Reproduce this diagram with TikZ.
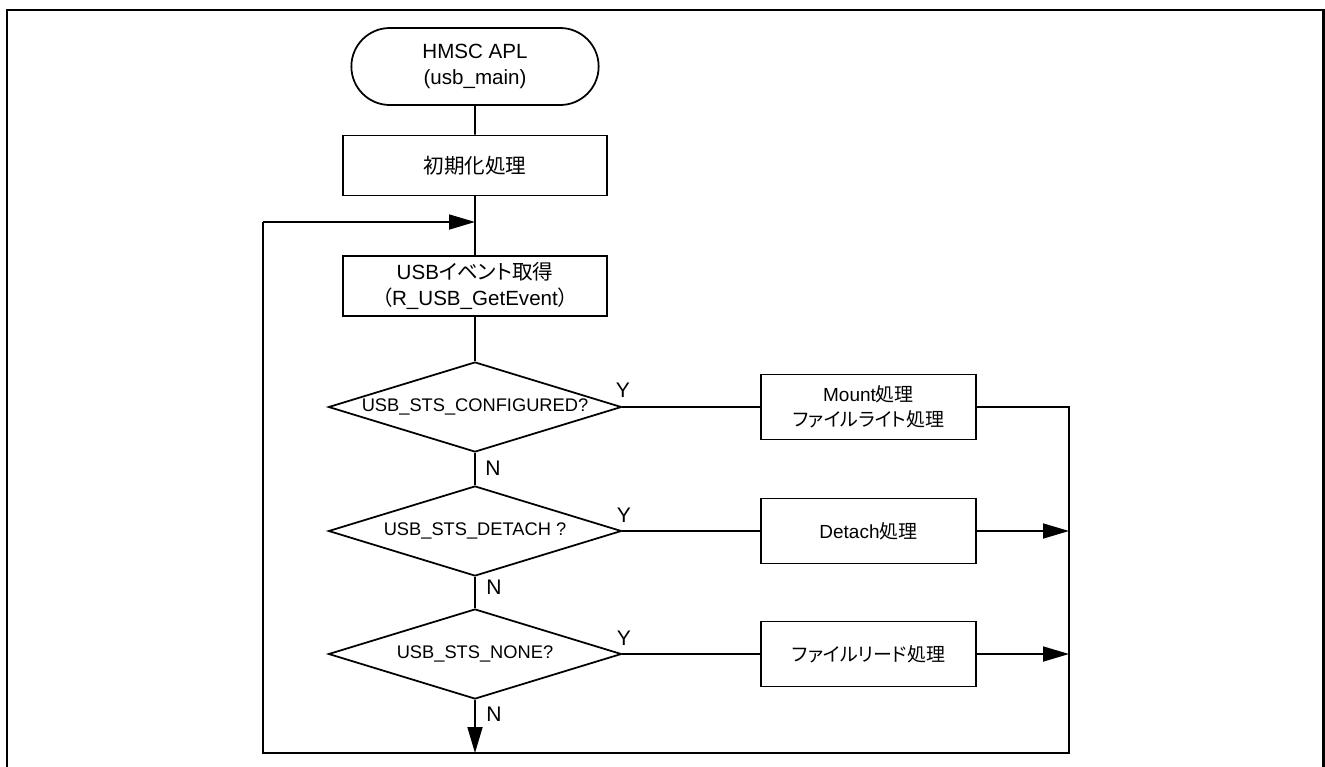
\documentclass[tikz,border=0pt]{standalone}
\usepackage{fontspec}
\setmainfont{Liberation Sans}
\newfontfamily\jp[RawFeature=+palt]{Noto Sans CJK JP}
\usetikzlibrary{shapes.geometric,shapes.misc,arrows.meta}
\pgfdeclarelayer{edgelayer}
\pgfdeclarelayer{nodelayer}
\pgfsetlayers{edgelayer,nodelayer,main}
\newcommand{\bigtxt}{\fontsize{11.7}{15}\selectfont}
\newcommand{\midtxt}{\fontsize{10.8}{14}\selectfont}
\newcommand{\smalltxt}{\fontsize{10.4}{12}\selectfont}
\tikzstyle{none}=[inner sep=0pt]
\tikzstyle{term}=[rounded rectangle,draw,line width=1pt,minimum width=5.18cm,minimum height=1.54cm,align=center,font=\bigtxt]
\tikzstyle{proc}=[rectangle,draw,line width=1pt,minimum width=5.28cm,minimum height=1.2cm,align=center,font=\bigtxt]
\tikzstyle{sideproc}=[rectangle,draw,line width=1pt,minimum width=4.3cm,minimum height=1.3cm,align=center,font=\midtxt]
\tikzstyle{decide}=[diamond,draw,line width=1pt,shape aspect=3.27,minimum width=5.86cm,minimum height=1.8cm,inner sep=0pt,font=\smalltxt]
\tikzstyle{yn}=[inner sep=0pt,font=\fontsize{12}{14}\selectfont]
\tikzstyle{flow}=[line width=1pt]
\tikzstyle{tip}=[line width=1pt,-{Triangle[length=0.52cm,width=0.3cm]}]

\begin{document}
\begin{tikzpicture}
	\useasboundingbox (0, 0) rectangle (26.5, -15.32);
	\draw[line width=1.7pt] (0.14, -15.4) -- (0.14, -0.2) -- (26.46, -0.2) -- (26.46, -15.4);
	\begin{pgfonlayer}{nodelayer}
		\node [style=term] (0) at (9.5, -1.33) {HMSC APL\\(usb\_main)};
		\node [style=proc] (1) at (9.5, -3.31) {{\jp 初期化処理}};
		\node [style=none] (2) at (9.5, -4.44) {};
		\node [style=proc] (3) at (9.5, -5.72) {USB{\jp イベント取得}\\{\jp （}R\_USB\_GetEvent{\jp ）}};
		\node [style=decide] (4) at (9.5, -8.14) {USB\_STS\_CONFIGURED?};
		\node [style=decide] (5) at (9.5, -10.62) {USB\_STS\_DETACH ?};
		\node [style=decide] (6) at (9.5, -13.08) {USB\_STS\_NONE?};
		\node [style=sideproc] (7) at (17.37, -8.14) {Mount{\jp 処理}\\{\jp ファイルライト処理}};
		\node [style=sideproc] (8) at (17.37, -10.62) {Detach{\jp 処理}};
		\node [style=sideproc] (9) at (17.37, -13.08) {{\jp ファイルリード処理}};
		\node [style=none] (10) at (21.38, -8.14) {};
		\node [style=none] (11) at (21.38, -10.62) {};
		\node [style=none] (12) at (21.38, -13.08) {};
		\node [style=none] (13) at (21.38, -15.06) {};
		\node [style=none] (14) at (9.5, -15.06) {};
		\node [style=none] (15) at (5.26, -15.06) {};
		\node [style=none] (16) at (5.26, -4.44) {};
		\node [style=yn] (17) at (12.46, -7.8) {Y};
		\node [style=yn] (18) at (12.48, -10.3) {Y};
		\node [style=yn] (19) at (12.48, -12.76) {Y};
		\node [style=yn] (20) at (9.86, -9.36) {N};
		\node [style=yn] (21) at (9.88, -11.74) {N};
		\node [style=yn] (22) at (9.88, -14.28) {N};
	\end{pgfonlayer}
	\begin{pgfonlayer}{edgelayer}
		\draw [style=flow] (0) to (1);
		\draw [style=flow] (1) to (3);
		\draw [style=flow] (3) to (4);
		\draw [style=flow] (4) to (5);
		\draw [style=flow] (5) to (6);
		\draw [style=tip] (6) to (14.center);
		\draw [style=flow] (4) to (7);
		\draw [style=flow] (5) to (8);
		\draw [style=flow] (6) to (9);
		\draw [style=tip] (8) to (11.center);
		\draw [style=tip] (9) to (12.center);
		\draw [style=flow] (7) -- (10.center) -- (13.center) -- (15.center) -- (16.center);
		\draw [style=tip] (16.center) to (2.center);
	\end{pgfonlayer}
\end{tikzpicture}
\end{document}
